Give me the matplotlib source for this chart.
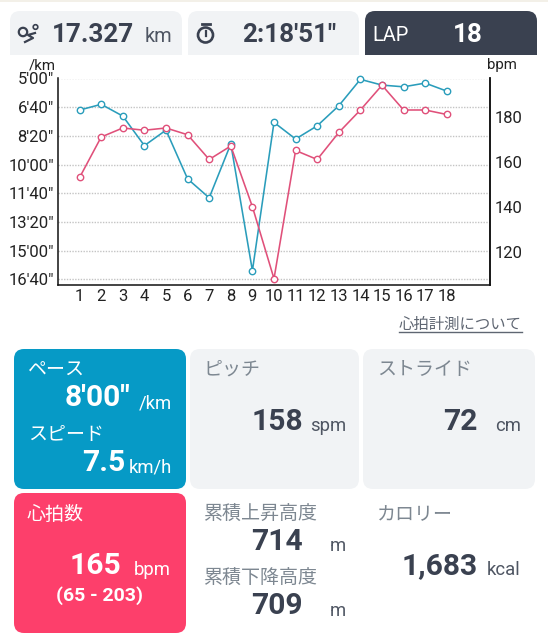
import matplotlib
matplotlib.use("Agg")
import matplotlib.pyplot as plt
from matplotlib.patches import FancyBboxPatch, Rectangle, Circle

plt.rcParams['font.family'] = ['Roboto', 'Noto Sans CJK JP', 'DejaVu Sans']

# datos
laps = list(range(1, 19))
pace_sec = [410, 390, 431, 534, 480, 650, 716, 528, 970, 453, 511, 465, 395, 303, 323, 329, 316, 344]
heart_rate = [153, 171, 175, 174, 175, 172, 161, 167, 140, 108, 165, 161, 173, 183, 194, 183, 183, 181]
pace_ticks = [300, 400, 500, 600, 700, 800, 900, 1000]
pace_labels = ['5\'00"', '6\'40"', '8\'20"', '10\'00"', '11\'40"', '13\'20"', '15\'00"', '16\'40"']
hr_ticks = [120, 140, 160, 180]

TEAL = '#2a9dbb'
PINK = '#e0507a'
DARK = '#3a4150'
LIGHT = '#f1f3f5'
GREY = '#7d8791'
UNIT = '#4f5663'
BLUE = '#069ac6'
RED = '#fd3f6b'

W, H = 548, 640
fig = plt.figure(figsize=(W / 100, H / 100), dpi=100)

# capa de tarjetas en pixeles
bg = fig.add_axes([0, 0, 1, 1])
bg.set_xlim(0, W)
bg.set_ylim(H, 0)
bg.axis('off')


def card(x0, y0, x1, y1, color, r=10, square_bottom=False):
    box = FancyBboxPatch((x0 + r, y0 + r), x1 - x0 - 2 * r, y1 - y0 - 2 * r,
                         boxstyle=f'round,pad={r},rounding_size={r}',
                         facecolor=color, edgecolor='none')
    bg.add_patch(box)
    if square_bottom:
        bg.add_patch(Rectangle((x0, y1 - r), x1 - x0, r, facecolor=color, edgecolor='none'))


def txt(x, y, s, size, color=DARK, weight='normal', ha='left'):
    # size en pixeles
    bg.text(x, y + 2, s, fontsize=size * 0.72, color=color, fontweight=weight,
            ha=ha, va='center')


# franja del mapa arriba
bg.add_patch(Rectangle((0, 0), W, 1.5, facecolor='#f3f0e8', edgecolor='none'))

# fila superior
card(10, 11, 182, 55, LIGHT, square_bottom=True)
card(188, 11, 359, 55, LIGHT, square_bottom=True)
card(365, 11, 537, 55, DARK, square_bottom=True)

# iconos
bg.add_patch(Circle((23, 32), 4.2, fill=False, edgecolor=DARK, linewidth=1.6))
bg.add_patch(Circle((35.5, 27), 2.3, fill=False, edgecolor=DARK, linewidth=1.2))
bg.plot([25, 33, 28, 35], [42, 38, 35, 33], color=DARK, linewidth=1.6)
bg.add_patch(Circle((205.5, 35), 7.5, fill=False, edgecolor=DARK, linewidth=1.9))
bg.plot([201.5, 209.5], [23.5, 23.5], color=DARK, linewidth=2)
bg.plot([205.5, 205.5], [31, 36], color=DARK, linewidth=1.6)

txt(134, 33.5, '17.327', 26, weight='bold', ha='right')
txt(172, 35, 'km', 20, color=UNIT, ha='right')
txt(336, 33.5, '2:18\'51"', 26, weight='bold', ha='right')
txt(372, 33.5, 'LAP', 20, color='white')
txt(483, 33.5, '18', 26, color='white', weight='bold', ha='right')

# grafico
ax = fig.add_axes([58 / W, 1 - 285 / H, (490 - 58) / W, (285 - 78.5) / H])
ax.set_xlim(0, 20)
ax.set_ylim(1020, 300)
ax.set_yticks(pace_ticks)
ax.set_yticklabels(pace_labels)
ax.set_xticks(laps)
ax.tick_params(axis='both', length=0, labelsize=12, colors='#222222')
ax.tick_params(axis='x', pad=3)
ax.tick_params(axis='y', pad=3)
ax.grid(axis='y', color='#c4c4c4', linestyle=(0, (1, 1)), linewidth=1)
ax.set_axisbelow(True)
ax.patch.set_alpha(0)
ax.spines['top'].set_visible(False)
for s in ['left', 'bottom', 'right']:
    ax.spines[s].set_linewidth(1.1)
    ax.spines[s].set_color('#111111')
ax.plot(laps, pace_sec, color=TEAL, linewidth=1.15, marker='o', markersize=4.6,
        markerfacecolor='white', markeredgecolor=TEAL, markeredgewidth=1, clip_on=False)

ax2 = ax.twinx()
ax2.set_ylim(105.2, 197)
ax2.set_yticks(hr_ticks)
ax2.tick_params(axis='y', length=0, labelsize=12, colors='#222222', pad=3)
ax2.spines['top'].set_visible(False)
ax2.spines['left'].set_visible(False)
ax2.spines['bottom'].set_visible(False)
ax2.spines['right'].set_linewidth(1.1)
ax2.spines['right'].set_color('#111111')
ax2.plot(laps, heart_rate, color=PINK, linewidth=1.15, marker='o', markersize=4.6,
         markerfacecolor='white', markeredgecolor=PINK, markeredgewidth=1, clip_on=False)

txt(29, 63, '/km', 15, color='#222222')
txt(487, 63, 'bpm', 15, color='#222222')

txt(399, 323, '心拍計測について', 15.4, color='#5f6672')
bg.plot([399, 522], [331.5, 331.5], color='#5f6672', linewidth=1)

# tarjetas inferiores
card(14, 349, 186, 489, BLUE)
card(190, 349, 359, 489, LIGHT)
card(363, 349, 535, 489, LIGHT)
card(14, 493, 186, 633, RED)

txt(28, 369, 'ペース', 19, color='white')
txt(130, 396, '8\'00"', 30, color='white', weight='bold', ha='right')
txt(172, 401, '/km', 18.5, color='white', ha='right')
txt(28, 433, 'スピード', 19, color='white')
txt(125, 461, '7.5', 30, color='white', weight='bold', ha='right')
txt(172, 465, 'km/h', 18.5, color='white', ha='right')

txt(203, 368, 'ピッチ', 19, color=GREY)
txt(303, 420, '158', 30, weight='bold', ha='right')
txt(346, 424, 'spm', 18.5, color=UNIT, ha='right')

txt(377, 368, 'ストライド', 19, color=GREY)
txt(478, 420, '72', 30, weight='bold', ha='right')
txt(521, 424, 'cm', 18.5, color=UNIT, ha='right')

txt(27, 513, '心拍数', 19, color='white')
txt(121, 564, '165', 30, color='white', weight='bold', ha='right')
txt(171, 568, 'bpm', 18.5, color='white', ha='right')
txt(100, 594, '(65 - 203)', 19.5, color='white', weight='bold', ha='center')

txt(203, 513, '累積上昇高度', 19, color=GREY)
txt(303, 540, '714', 30, weight='bold', ha='right')
txt(346, 544, 'm', 18.5, color=UNIT, ha='right')
txt(203, 577, '累積下降高度', 19, color=GREY)
txt(303, 604, '709', 30, weight='bold', ha='right')
txt(346, 609, 'm', 18.5, color=UNIT, ha='right')

txt(377, 513, 'カロリー', 19, color=GREY)
txt(478, 564, '1,683', 30, weight='bold', ha='right')
txt(521, 568, 'kcal', 18.5, color=UNIT, ha='right')

fig.savefig('out.png', dpi=100)
plt.close(fig)
